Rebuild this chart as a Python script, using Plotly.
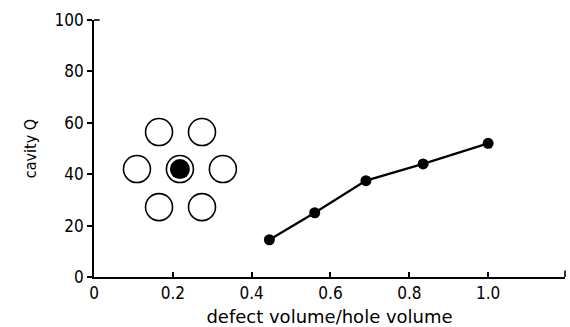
import plotly.graph_objects as go

# Data
defect_ratio = [0.445, 0.56, 0.69, 0.835, 1.0]
cavity_q = [14.5, 25, 37.5, 44, 52]

x_ticks = [0, 0.2, 0.4, 0.6, 0.8, 1.0]
x_ticklabels = ["0", "0.2", "0.4", "0.6", "0.8", "1.0"]
y_ticks = [0, 20, 40, 60, 80, 100]
y_ticklabels = ["0", "20", "40", "60", "80", "100"]

# Inset: hexagonal lattice of holes (data coordinates), central defect
hole_x = [0.165, 0.274, 0.109, 0.327, 0.165, 0.274]
hole_y = [56.4, 56.4, 42.0, 42.0, 27.2, 27.2]
defect_x = [0.218]
defect_y = [42.0]

FONT_C = "DejaVu Sans Condensed, DejaVu Sans, sans-serif"
FONT = "DejaVu Sans, sans-serif"

fig = go.Figure()

fig.add_trace(go.Scatter(
    x=hole_x, y=hole_y, mode="markers",
    marker=dict(symbol="circle-open", size=27, color="black", line=dict(width=1.6)),
    hoverinfo="skip", showlegend=False))
fig.add_trace(go.Scatter(
    x=defect_x, y=defect_y, mode="markers",
    marker=dict(symbol="circle-open", size=27, color="black", line=dict(width=1.6)),
    hoverinfo="skip", showlegend=False))
fig.add_trace(go.Scatter(
    x=defect_x, y=defect_y, mode="markers",
    marker=dict(symbol="circle", size=20, color="black", line=dict(width=0)),
    hoverinfo="skip", showlegend=False))

fig.add_trace(go.Scatter(
    x=defect_ratio, y=cavity_q, mode="lines+markers",
    line=dict(color="black", width=2.2),
    marker=dict(symbol="circle", size=11, color="black"),
    showlegend=False))

fig.update_layout(
    width=570, height=327,
    margin=dict(l=94, r=5, t=20, b=50, autoexpand=False),
    paper_bgcolor="white", plot_bgcolor="white",
    font=dict(family=FONT_C, size=17, color="black"),
    xaxis=dict(
        range=[0, 1.195], tickmode="array", tickvals=x_ticks, ticktext=x_ticklabels,
        ticks="inside", ticklen=5, tickwidth=1.5, tickcolor="black",
        showline=True, linecolor="black", linewidth=1.8, showgrid=False, zeroline=False,
        tickfont=dict(family=FONT_C, size=17), automargin=False,
        title=dict(text="defect volume/hole volume", font=dict(family=FONT, size=18), standoff=10),
    ),
    yaxis=dict(
        range=[0, 100], tickmode="array", tickvals=y_ticks, ticktext=y_ticklabels,
        ticks="outside", ticklen=5, tickwidth=1.5, tickcolor="black",
        showline=True, linecolor="black", linewidth=1.8, showgrid=False, zeroline=False,
        tickfont=dict(family=FONT_C, size=17), automargin=False,
        title=dict(text="cavity Q", font=dict(family=FONT_C, size=16), standoff=14),
    ),
    shapes=[
        dict(type="line", xref="x domain", yref="y domain", x0=0, x1=0.012, y0=1, y1=1,
             line=dict(color="black", width=1.6)),
        dict(type="line", xref="x domain", yref="y domain", x0=1, x1=1, y0=0, y1=0.025,
             line=dict(color="black", width=1.6)),
    ],
)

fig.write_html("out.html")
